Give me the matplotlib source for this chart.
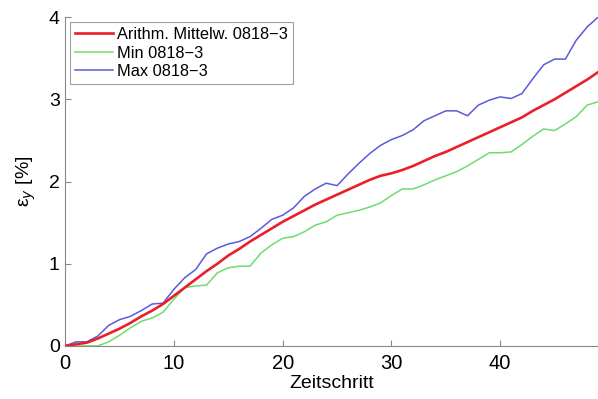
import numpy as np
import matplotlib
matplotlib.use("Agg")
import matplotlib.pyplot as plt

plt.rcParams['font.family'] = ['Liberation Sans', 'DejaVu Sans']

zeitschritt = list(range(50))

mittel = [0.00, 0.02, 0.04, 0.09, 0.15, 0.21, 0.28, 0.36, 0.43, 0.51,
          0.61, 0.71, 0.81, 0.91, 1.00, 1.10, 1.18, 1.27, 1.35, 1.43,
          1.51, 1.58, 1.65, 1.72, 1.78, 1.84, 1.90, 1.96, 2.02, 2.07,
          2.10, 2.14, 2.19, 2.25, 2.31, 2.36, 2.42, 2.48, 2.54, 2.60,
          2.66, 2.72, 2.78, 2.86, 2.93, 3.00, 3.08, 3.16, 3.24, 3.33]

minimum = [0.00, 0.00, 0.00, 0.00, 0.05, 0.13, 0.22, 0.30, 0.34, 0.41,
           0.57, 0.71, 0.73, 0.74, 0.89, 0.95, 0.97, 0.97, 1.13, 1.23,
           1.31, 1.33, 1.39, 1.47, 1.51, 1.59, 1.62, 1.65, 1.69, 1.74,
           1.83, 1.91, 1.91, 1.96, 2.02, 2.07, 2.12, 2.19, 2.27, 2.35,
           2.35, 2.36, 2.45, 2.55, 2.64, 2.62, 2.70, 2.79, 2.93, 2.97]

maximum = [0.00, 0.05, 0.05, 0.12, 0.25, 0.32, 0.36, 0.43, 0.51, 0.52,
           0.69, 0.83, 0.93, 1.12, 1.19, 1.24, 1.27, 1.33, 1.43, 1.54,
           1.59, 1.68, 1.82, 1.91, 1.98, 1.95, 2.09, 2.22, 2.34, 2.44,
           2.51, 2.56, 2.63, 2.74, 2.80, 2.86, 2.86, 2.80, 2.93, 2.99,
           3.03, 3.01, 3.07, 3.25, 3.42, 3.49, 3.49, 3.72, 3.88, 4.00]

fig = plt.figure(figsize=(5.98, 3.99), dpi=100)
ax = fig.add_axes([0.109, 0.133, 0.891, 0.824])

ax.plot(zeitschritt, mittel, color='#e8202a', linewidth=1.9, label='Arithm. Mittelw. 0818\u22123', zorder=3)
ax.plot(zeitschritt, minimum, color='#6edc6e', linewidth=1.1, label='Min 0818\u22123')
ax.plot(zeitschritt, maximum, color='#5a5adc', linewidth=1.1, label='Max 0818\u22123')

ax.set_xlim(0, 49)
ax.set_ylim(0, 4)
ax.set_xticks([0, 10, 20, 30, 40])
ax.set_yticks([0, 1, 2, 3, 4])
ax.tick_params(direction='in', length=4, color='#888888')
ax.tick_params(axis='x', labelsize=14.5, pad=6)
ax.tick_params(axis='y', labelsize=14, pad=4)

for side in ['top', 'right']:
    ax.spines[side].set_visible(False)
for side in ['left', 'bottom']:
    ax.spines[side].set_color('#888888')
    ax.spines[side].set_linewidth(0.8)

ax.set_xlabel('Zeitschritt', fontsize=14, labelpad=1)
ax.set_ylabel('\u03b5$_y$ [%]', fontsize=14, labelpad=8)

leg = ax.legend(loc='upper left', fontsize=11.8, frameon=True, fancybox=False,
                handlelength=2.3, handletextpad=0.25, borderpad=0.3, labelspacing=0.22,
                borderaxespad=0.3)
leg.get_frame().set_edgecolor('#888888')
leg.get_frame().set_linewidth(0.8)

fig.savefig('out.png', dpi=100)
